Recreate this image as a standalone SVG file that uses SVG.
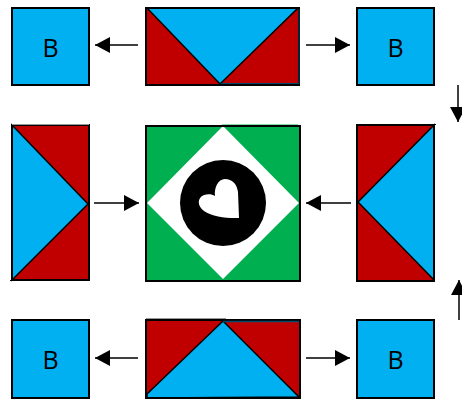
<svg xmlns="http://www.w3.org/2000/svg" width="462" height="400" viewBox="0 0 462 400">
<style>
.box{stroke:#000;stroke-width:2}
.b{fill:#00b0f0}
.r{fill:#c00000}
.t{fill:#00b0f0;stroke:#000;stroke-width:1.5;stroke-linejoin:miter}
.f{fill:none;stroke:#000;stroke-width:2}
.g{fill:#00b050}
.lab{font-family:"Open Sans","Liberation Sans",sans-serif;font-size:25px;fill:#000;text-anchor:middle}
.c{stroke:#000;stroke-width:1.5;fill:none;marker-end:url(#ah)}
</style>
<defs>
<marker id="ah" markerUnits="userSpaceOnUse" markerWidth="16" markerHeight="16" refX="15" refY="8" orient="auto"><path d="M0 0L15 8L0 16Z" fill="#000"/></marker>
</defs>
<rect width="462" height="400" fill="#fff"/>
<g id="b-top-left"><rect class="box b" x="12" y="8" width="77" height="77"/><text class="lab" x="50.5" y="57">B</text></g>
<g id="b-top-right"><rect class="box b" x="357" y="8" width="77" height="77"/><text class="lab" x="395.5" y="57">B</text></g>
<g id="b-bottom-left"><rect class="box b" x="12" y="320" width="77" height="78"/><text class="lab" x="50.5" y="369">B</text></g>
<g id="b-bottom-right"><rect class="box b" x="357" y="320" width="77" height="78"/><text class="lab" x="395.5" y="369">B</text></g>
<g id="top"><rect class="r" x="146" y="8" width="153" height="77"/><path class="t" d="M147 8L220 84L298 8Z"/><rect class="f" x="146" y="8" width="153" height="77"/><path d="M221 83.500H299V9" fill="none" stroke="#004a6e" stroke-width="1"/></g>
<g id="bottom"><rect class="r" x="146" y="320" width="154" height="78"/><path class="t" d="M147 394L223 321L299 397L147 398Z"/><rect class="f" x="146" y="320" width="154" height="78"/><path d="M223 321.500H299" stroke="#004a6e" stroke-width="1.500" fill="none"/><path d="M146 318.500H226" stroke="#999" stroke-width="1" fill="none"/></g>
<g id="left"><rect class="r" x="12" y="125" width="77" height="155"/><path class="t" d="M12 125L88 204L12 280Z"/><rect class="f" x="12" y="125" width="77" height="155"/><path d="M12 124.500H89" stroke="#999" stroke-width="1" fill="none"/><path d="M10 280.500H14" stroke="#000" stroke-width="1" fill="none"/></g>
<g id="right"><rect class="r" x="357" y="125" width="77" height="156"/><path class="t" d="M434 125L358 202L434 280Z"/><rect class="f" x="357" y="125" width="77" height="156"/><path d="M432 124.500H436" stroke="#000" stroke-width="1" fill="none"/></g>
<g id="centre"><rect class="g" x="146" y="125" width="154" height="156"/><path fill="#fff" d="M223 126L299 203L223 279L147 203Z"/><rect class="f" x="146" y="126" width="154" height="155"/><path d="M222 124.500H298" stroke="#7fd8a8" stroke-width="1" fill="none"/><circle cx="223" cy="203" r="43" fill="#000"/><path fill="#fff" d="M239 218C228 218.500 212 217 204 211C197 206 197 198 204 195C208 193.500 212 194 215 196C214 188 218 179 225 179C232 179 237 184 238 192Z"/></g>
<g id="connectors">
<path class="c" d="M138 45H95"/>
<path class="c" d="M306 45H350"/>
<path class="c" d="M94 203H139"/>
<path class="c" d="M351 203H306"/>
<path class="c" d="M138 358H95"/>
<path class="c" d="M306 358H350"/>
<path class="c" d="M458 85V122"/>
<path class="c" d="M459 320V280"/>
</g>
</svg>
